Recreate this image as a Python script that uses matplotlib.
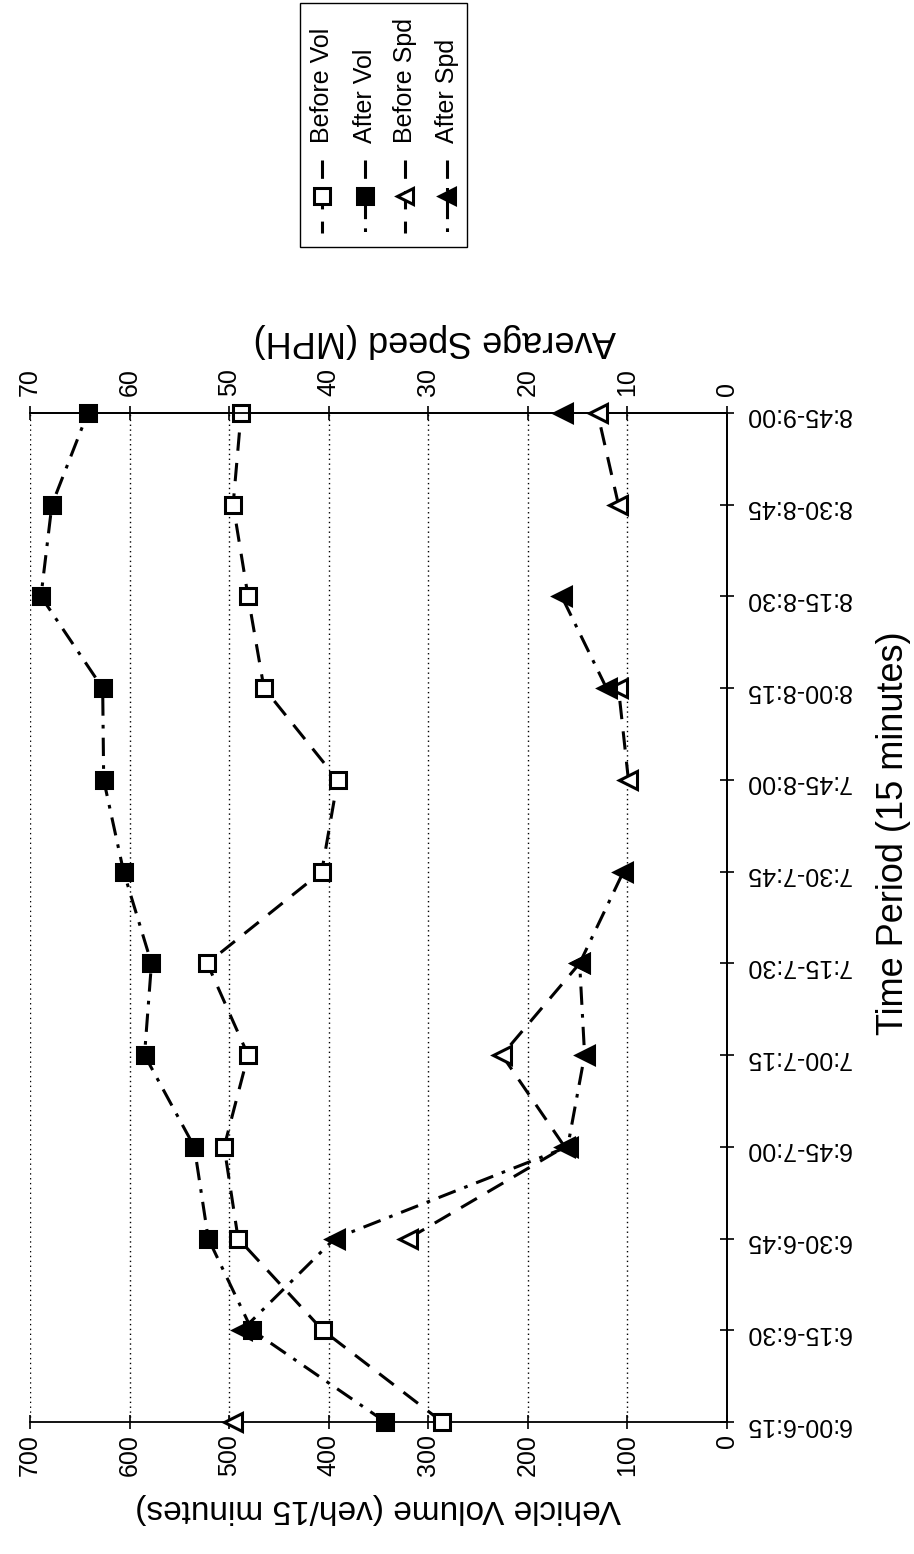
import numpy as np
import matplotlib
matplotlib.use('Agg')
import matplotlib.pyplot as plt
from matplotlib.lines import Line2D
from matplotlib.patches import Rectangle

# ---------------- data ----------------
periods = ['6:00-6:15', '6:15-6:30', '6:30-6:45', '6:45-7:00', '7:00-7:15',
           '7:15-7:30', '7:30-7:45', '7:45-8:00', '8:00-8:15', '8:15-8:30',
           '8:30-8:45', '8:45-9:00']
before_vol = [286, 406, 491, 505, 481, 522, 407, 391, 465, 481, 496, 488]
after_vol = [343, 477, 521, 535, 585, 578, 606, 626, 627, 689, 678, 642]
before_spd = [49.6, np.nan, 32.0, 16.3, 22.6, 14.8, np.nan, 9.9, 10.9, np.nan, 10.9, 13.0]
after_spd = [np.nan, 48.7, 39.4, 16.0, 14.3, 14.8, 10.4, np.nan, 12.1, 16.6, np.nan, 16.5]
series_names = ['Before Vol', 'After Vol', 'Before Spd', 'After Spd']
vol_ticks = [0, 100, 200, 300, 400, 500, 600, 700]
spd_ticks = [0, 10, 20, 30, 40, 50, 60, 70]

plt.rcParams['font.family'] = ['Liberation Sans', 'DejaVu Sans']

W, H = 914, 1554
fig = plt.figure(figsize=(W / 100, H / 100), dpi=100)
fig.patch.set_facecolor('white')

def fx(px):
    return px / W

def fy(py):
    return 1 - py / H

left, right, top, bottom = 30, 727, 413, 1422
aw, ah = right - left, bottom - top
ax = fig.add_axes([fx(left), fy(bottom), aw / W, ah / H])
ax2 = ax.twiny()

pos = np.arange(len(periods))
ax.set_ylim(0, len(periods) - 1)
ax.set_xlim(max(vol_ticks), 0)
ax2.set_xlim(max(spd_ticks), 0)

dash = (0, (6, 4))
dashdot = (0, (6, 3, 1.2, 3))
lw = 2.2
ms = 12
styles = [
    dict(linestyle=dash, marker='s', mfc='white'),
    dict(linestyle=dashdot, marker='s', mfc='black'),
    dict(linestyle=dash, marker='<', mfc='white'),
    dict(linestyle=dashdot, marker='<', mfc='black'),
]

ax.plot(before_vol, pos, color='black', lw=lw, ms=ms, mec='black', mew=2.2,
        zorder=4, clip_on=False, **styles[0])
ax.plot(after_vol, pos, color='black', lw=lw, ms=ms, mec='black', mew=2.2,
        zorder=4, clip_on=False, **styles[1])
ax2.plot(before_spd, pos, color='black', lw=lw, ms=ms + 1, mec='black', mew=2.2,
         zorder=4, clip_on=False, **styles[2])
ax2.plot(after_spd, pos, color='black', lw=lw, ms=ms + 1, mec='black', mew=2.2,
         zorder=4, clip_on=False, **styles[3])

# grid (dotted, one per volume tick)
ax.set_xticks(vol_ticks)
ax.grid(axis='x', color='black', linestyle=(0, (1, 2.5)), lw=1.0)
ax.set_axisbelow(True)

# spines
for a in (ax, ax2):
    a.spines['left'].set_visible(False)
    for s in ('top', 'bottom', 'right'):
        a.spines[s].set_linewidth(1.3)
ax2.spines['bottom'].set_visible(False)

# volume axis (bottom)
ax.tick_params(axis='x', direction='inout', length=10, width=1.2, labelsize=18,
               labelrotation=90, pad=4, bottom=True, top=False)
ax.set_xlabel('Vehicle Volume (veh/15 minutes)', fontsize=24, rotation=180, labelpad=12)

# speed axis (top)
ax2.set_xticks(spd_ticks)
ax2.tick_params(axis='x', direction='inout', length=10, width=1.2, labelsize=18,
                labelrotation=90, pad=7)
ax2.set_xlabel('Average Speed (MPH)', fontsize=26, rotation=180)
ax2.xaxis.set_label_coords((435 - left) / aw, 1 + (top - 350) / ah)

# category axis (right)
ax.yaxis.tick_right()
ax.set_yticks(pos, periods)
ax.tick_params(axis='y', direction='inout', length=10, width=1.2, labelsize=18,
               labelrotation=180, pad=8, left=False, right=True)
ax2.tick_params(axis='y', left=False, right=False, labelleft=False, labelright=False)
ax.yaxis.set_label_position('right')
ax.set_ylabel('Time Period (15 minutes)', fontsize=26, rotation=90)
ax.yaxis.set_label_coords((876 - left) / aw, (bottom - 833) / ah)

# legend (rotated, built by hand)
fig.patches.append(Rectangle((fx(300), fy(247)), (467 - 300) / W, (247 - 3) / H,
                             transform=fig.transFigure, facecolor='white',
                             edgecolor='black', lw=1.0))
cols = [322, 365, 405, 447]
for name, st, cx in zip(series_names, styles, cols):
    fig.text(fx(cx), fy(143), name, rotation=90, ha='center', va='bottom', fontsize=18)
    ln = Line2D([fx(cx)] * 3, [fy(160), fy(196), fy(233)], transform=fig.transFigure,
                color='black', lw=lw, ms=ms, mec='black', mew=2.2, markevery=[1], **st)
    fig.lines.append(ln)

fig.savefig('out.png', dpi=100, facecolor='white')
